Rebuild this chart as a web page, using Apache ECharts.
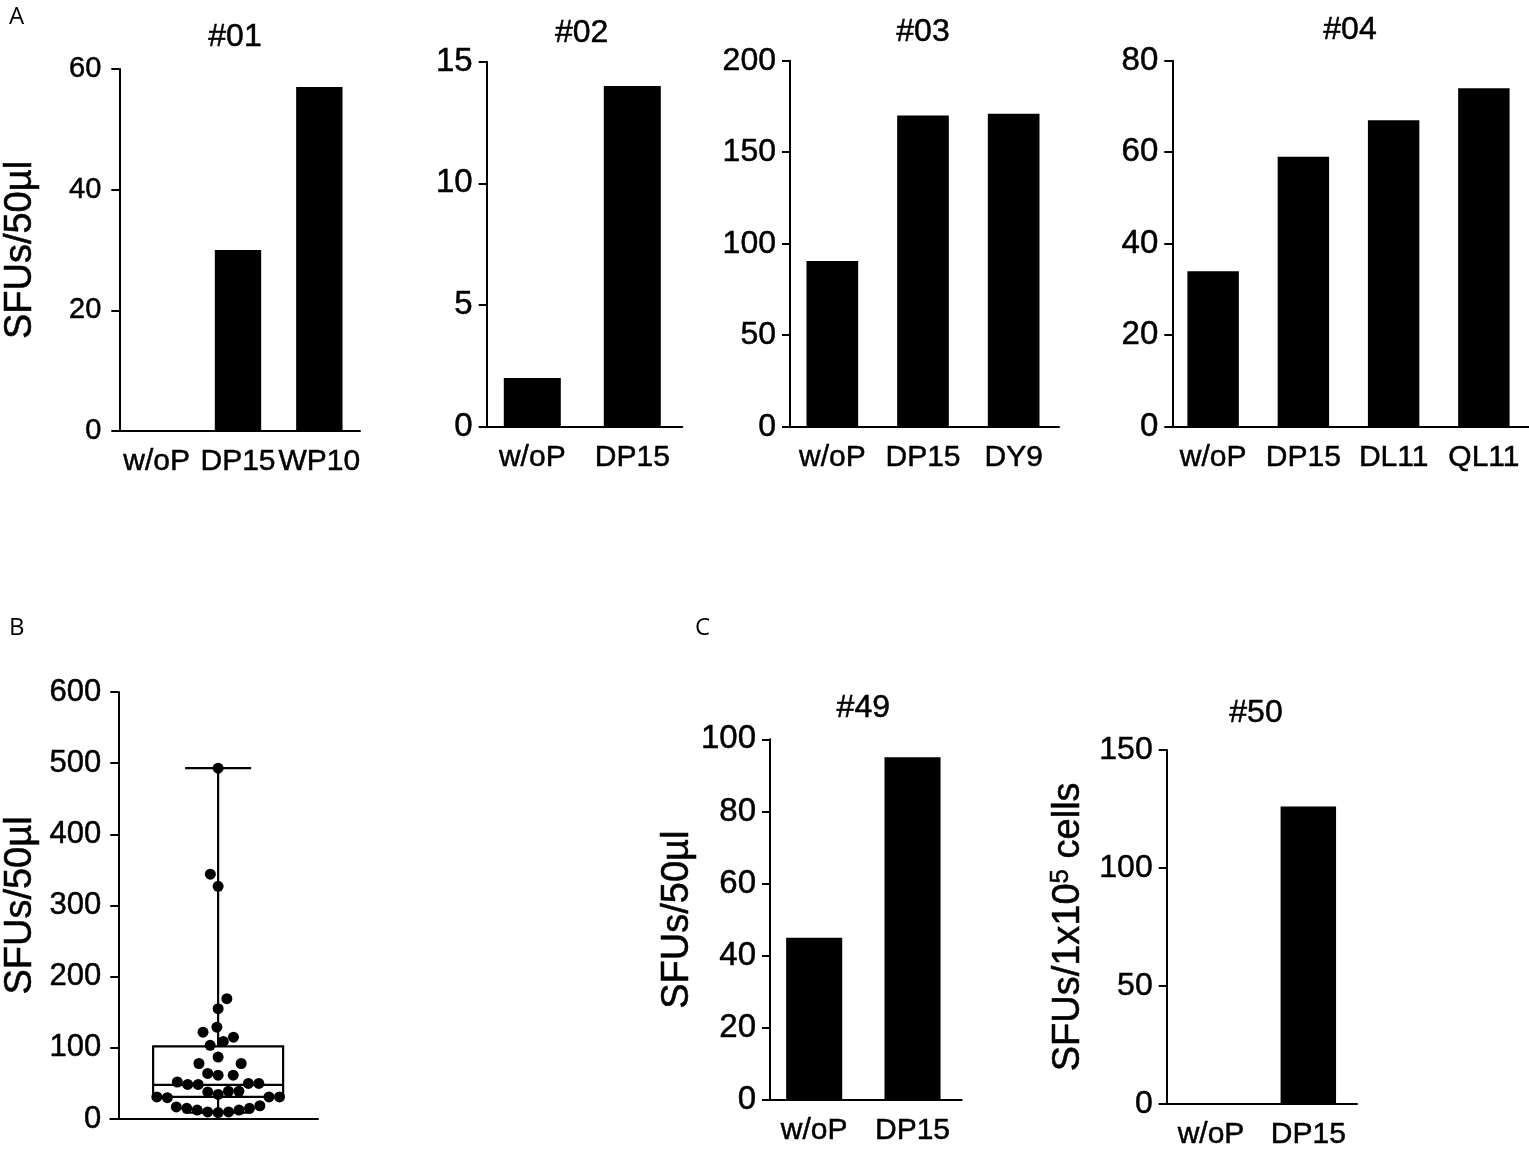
<!DOCTYPE html>
<html>
<head>
<meta charset="utf-8">
<script src="https://cdn.jsdelivr.net/npm/echarts@6/dist/echarts.min.js"></script>
<style>
  html, body { margin: 0; padding: 0; background: #fff; }
  #chart { width: 1529px; height: 1150px; }
</style>
</head>
<body>
<div id="chart"></div>
<script>
// ---- panel A: single donors ----
const cats01 = ['w/oP', 'DP15', 'WP10'];
const vals01 = [0, 30, 57];
const cats02 = ['w/oP', 'DP15'];
const vals02 = [2, 14];
const cats03 = ['w/oP', 'DP15', 'DY9'];
const vals03 = [90.5, 170, 171];
const cats04 = ['w/oP', 'DP15', 'DL11', 'QL11'];
const vals04 = [34, 59, 67, 74];

// ---- panel B: all donors ----
const donorSfus = [
  493, 344, 327, 169, 155, 129, 115, 122, 103.5, 109,
  87, 78, 78, 64, 61.5, 61.5, 52, 50, 48.5, 48.5,
  50, 39, 34.5, 38, 39, 31, 30, 31, 31, 18.6,
  15, 12.6, 10, 9, 10, 12.6, 15, 17
];
const boxStats = [9, 31, 48, 102, 493]; // min, q1, median, q3, max

// ---- panel C ----
const cats49 = ['w/oP', 'DP15'];
const vals49 = [45, 95];
const cats50 = ['w/oP', 'DP15'];
const vals50 = [0, 126];

const FONT = '"Liberation Sans", Arial, Helvetica, sans-serif';
const BLACK = '#000';

// layout of the bar panels (the panels were pasted at slightly different scales)
const barPanels = [
  { title: '#01', cats: cats01, vals: vals01, max: 60, step: 20, tickFont: 29, tickGap: 18,
    grid: { left: 116, top: 69, width: 244, height: 362 }, axisX: 119.3,
    titleX: 235, titleTop: 21, name: 'SFUs/50µl', nameGap: 80 },
  { title: '#02', cats: cats02, vals: vals02, max: 15, step: 5, tickFont: 33, tickGap: 14,
    grid: { left: 482.3, top: 61.7, width: 200, height: 365 }, axisX: 486.7,
    titleX: 581.7, titleTop: 17 },
  { title: '#03', cats: cats03, vals: vals03, max: 200, step: 50, tickFont: 32, tickGap: 14,
    grid: { left: 787, top: 60.7, width: 272, height: 366 }, axisX: 790,
    titleX: 923, titleTop: 16 },
  { title: '#04', cats: cats04, vals: vals04, max: 80, step: 20, tickFont: 33, tickGap: 14,
    grid: { left: 1168, top: 60.7, width: 362, height: 366 }, axisX: 1172.3,
    titleX: 1350, titleTop: 14 },
  { title: '#49', cats: cats49, vals: vals49, max: 100, step: 20, tickFont: 33, tickGap: 14,
    grid: { left: 765, top: 739.3, width: 196.7, height: 360.7 }, axisX: 770,
    titleX: 863.3, titleTop: 692, name: 'SFUs/50µl', nameGap: 66 },
  { title: '#50', cats: cats50, vals: vals50, max: 150, step: 50, tickFont: 32, tickGap: 14,
    grid: { left: 1162.3, top: 750, width: 194.7, height: 355.7 }, axisX: 1166.7,
    titleX: 1256, titleTop: 697, name: 'SFUs/1x10{sup|5} cells', nameGap: 77 }
];

// panel B layout
const gridB = { left: 110, top: 692, width: 208, height: 427 };
const axisXB = 118;
const yMaxB = 600;
const dotSize = 11;
const dotGapX = 10.5;
const dotGapY = 18;

// beeswarm: place each value (ascending) at the x offset nearest the centre without collision
function swarm(values, pxPerUnit, dh, dv) {
  const order = values.map((v, i) => i).sort((a, b) => values[a] - values[b]);
  const placed = [];
  const xs = new Array(values.length);
  let lastSign = 1;
  const clash = (p, x, y) => ((p.x - x) / dh) ** 2 + ((p.y - y) / dv) ** 2 < 0.999;
  order.forEach(i => {
    const y = values[i] * pxPerUnit;
    const near = placed.filter(p => Math.abs(p.y - y) < dv);
    const cands = [0];
    near.forEach(p => {
      const dx = dh * Math.sqrt(1 - ((p.y - y) / dv) ** 2);
      cands.push(p.x + dx, p.x - dx);
    });
    const ok = cands.filter(c => !near.some(p => clash(p, c, y)));
    ok.sort((a, b) => (Math.round(Math.abs(a) * 100) - Math.round(Math.abs(b) * 100)) || (a * lastSign - b * lastSign));
    const x = ok[0];
    if (x !== 0) lastSign = Math.sign(x);
    placed.push({ x, y });
    xs[i] = x;
  });
  return xs;
}

const axisLineStyle = { color: BLACK, width: 2 };
// a thin outline gives the heavier look of the original lettering
const labelStyle = { color: BLACK, fontFamily: FONT, textBorderColor: BLACK, textBorderWidth: 0.5 };

const grids = [], xAxes = [], yAxes = [], series = [], titles = [];

barPanels.forEach((p, i) => {
  grids.push(p.grid);
  xAxes.push({
    type: 'category', gridIndex: i, data: p.cats,
    axisLine: { lineStyle: axisLineStyle },
    axisTick: { alignWithLabel: true, length: 8, lineStyle: axisLineStyle },
    axisLabel: Object.assign({ interval: 0, margin: 16, fontSize: 30 }, labelStyle),
    splitLine: { show: false }
  });
  const y = {
    type: 'value', gridIndex: i, min: 0, max: p.max, interval: p.step,
    offset: p.grid.left - p.axisX,
    axisLine: { show: true, lineStyle: axisLineStyle },
    axisTick: { show: true, length: 8, lineStyle: axisLineStyle },
    axisLabel: Object.assign({ margin: p.tickGap, fontSize: p.tickFont }, labelStyle),
    splitLine: { show: false }
  };
  if (p.name) {
    Object.assign(y, {
      name: p.name, nameLocation: 'middle', nameRotate: 90, nameGap: p.nameGap,
      nameTextStyle: Object.assign({
        fontSize: 38,
        rich: { sup: Object.assign({ fontSize: 26, padding: [0, 0, 16, 0] }, labelStyle) }
      }, labelStyle)
    });
  }
  yAxes.push(y);
  series.push({
    type: 'bar', xAxisIndex: i, yAxisIndex: i, data: p.vals,
    barWidth: '57%', itemStyle: { color: BLACK }, silent: true
  });
  titles.push({
    text: p.title, left: p.titleX, top: p.titleTop, textAlign: 'center', padding: 0,
    textStyle: Object.assign({ fontSize: 32, fontWeight: 'normal' }, labelStyle)
  });
});

// panel B: box + whiskers with the individual donors on top
const bIdx = grids.length;
grids.push(gridB);
xAxes.push({
  type: 'value', gridIndex: bIdx,
  min: gridB.left - (axisXB + 100), max: gridB.left + gridB.width - (axisXB + 100),
  axisLine: { show: true, onZero: false, lineStyle: axisLineStyle },
  axisTick: { show: false }, axisLabel: { show: false }, splitLine: { show: false }
});
yAxes.push({
  type: 'value', gridIndex: bIdx, min: 0, max: yMaxB, interval: 100,
  offset: gridB.left - axisXB,
  axisLine: { show: true, onZero: false, lineStyle: axisLineStyle },
  axisTick: { show: true, length: 8, lineStyle: axisLineStyle },
  axisLabel: Object.assign({ margin: 17, fontSize: 31 }, labelStyle),
  splitLine: { show: false },
  name: 'SFUs/50µl', nameLocation: 'middle', nameRotate: 90, nameGap: 79,
  nameTextStyle: Object.assign({ fontSize: 38 }, labelStyle)
});

series.push({
  type: 'custom', xAxisIndex: bIdx, yAxisIndex: bIdx, silent: true,
  data: [boxStats],
  encode: { y: [0, 1, 2, 3, 4] },
  renderItem: function (params, api) {
    const ys = [0, 1, 2, 3, 4].map(k => api.coord([0, api.value(k)])[1]);
    const cx = api.coord([0, 0])[0];
    const half = 65, cap = 33;
    const st = { stroke: BLACK, lineWidth: 2.2, fill: null };
    const line = (x1, y1, x2, y2) => ({ type: 'line', shape: { x1, y1, x2, y2 }, style: st });
    return {
      type: 'group',
      children: [
        { type: 'rect', shape: { x: cx - half, y: ys[3], width: half * 2, height: ys[1] - ys[3] }, style: st },
        line(cx - half, ys[2], cx + half, ys[2]),
        line(cx, ys[3], cx, ys[4]),
        line(cx - cap, ys[4], cx + cap, ys[4]),
        line(cx, ys[1], cx, ys[0]),
        line(cx - cap, ys[0], cx + cap, ys[0])
      ]
    };
  }
});

const swarmX = swarm(donorSfus, gridB.height / yMaxB, dotGapX, dotGapY);
series.push({
  type: 'scatter', xAxisIndex: bIdx, yAxisIndex: bIdx, silent: true,
  symbolSize: dotSize, itemStyle: { color: BLACK, opacity: 1 },
  data: donorSfus.map((v, i) => [swarmX[i], v])
});

const letter = (t, x, y) => ({
  type: 'text', x, y,
  style: { text: t, fill: BLACK, font: '24px "Open Sans", sans-serif', verticalAlign: 'middle' }
});

const chart = echarts.init(document.getElementById('chart'), null, { renderer: 'canvas' });
chart.setOption({
  animation: false,
  backgroundColor: '#fff',
  title: titles,
  grid: grids,
  xAxis: xAxes,
  yAxis: yAxes,
  series: series,
  graphic: [letter('A', 9, 17), letter('B', 9, 628), letter('C', 695, 628)]
});
</script>
</body>
</html>
